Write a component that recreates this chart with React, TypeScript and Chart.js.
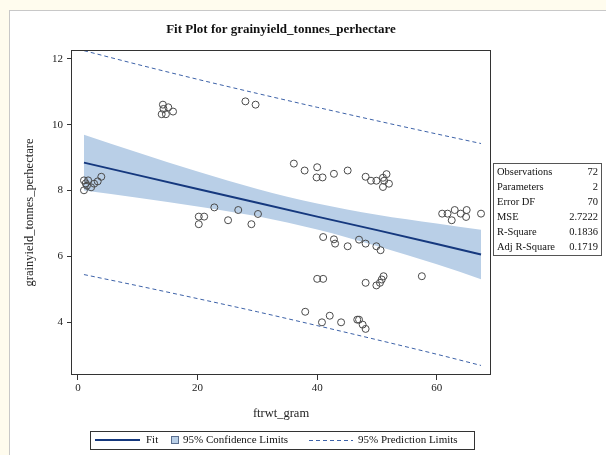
import React, { useEffect, useRef } from "react";
import { Chart, registerables } from "chart.js";

Chart.register(...registerables);

// Observations (ftrwt_gram, grainyield_tonnes_perhectare)
const obsX = [
  1.0, 1.7, 1.3, 1.0, 2.2, 2.7, 3.3, 3.9, 1.5,
  14.2, 15.1, 14.3, 15.9, 14.0, 14.7,
  28.0, 29.7,
  22.8, 20.2, 21.1, 20.2, 26.8, 25.1, 30.1, 29.0,
  36.1, 37.9, 40.0, 39.9, 40.9, 42.8, 45.1, 48.1, 49.0, 49.9, 51.0, 51.6, 51.2, 52.0, 51.0,
  60.9, 61.8, 63.0, 62.5, 64.0, 65.0, 64.9, 67.4,
  41.0, 42.8, 43.0, 45.1, 47.0, 48.1, 49.9, 50.6,
  40.0, 41.0, 48.1, 49.9, 50.5, 50.8, 51.1, 57.5,
  38.0, 40.8, 42.1, 44.0, 46.7, 47.0, 47.6, 48.1,
];
const obsY = [
  8.31, 8.31, 8.22, 8.01, 8.10, 8.21, 8.28, 8.42, 8.15,
  10.61, 10.53, 10.48, 10.40, 10.32, 10.32,
  10.71, 10.61,
  7.49, 7.21, 7.21, 6.98, 7.41, 7.10, 7.29, 6.98,
  8.82, 8.61, 8.71, 8.40, 8.40, 8.51, 8.61, 8.42, 8.30, 8.30, 8.39, 8.50, 8.30, 8.21, 8.11,
  7.30, 7.30, 7.41, 7.10, 7.30, 7.41, 7.20, 7.30,
  6.59, 6.52, 6.39, 6.31, 6.51, 6.39, 6.31, 6.19,
  5.32, 5.32, 5.20, 5.12, 5.20, 5.30, 5.40, 5.40,
  4.32, 4.00, 4.20, 4.00, 4.08, 4.08, 3.93, 3.80,
];

// Fit line and limits
const curveX = [1, 10, 20, 30, 40, 50, 60, 67.4];
const fitY = [8.85, 8.47, 8.05, 7.63, 7.21, 6.80, 6.38, 6.06];
const clUpper = [9.70, 9.16, 8.58, 8.05, 7.61, 7.27, 7.00, 6.81];
const clLower = [8.00, 7.78, 7.52, 7.22, 6.82, 6.32, 5.76, 5.31];
const plUpper = [12.25, 11.83, 11.38, 10.95, 10.53, 10.12, 9.72, 9.43];
const plLower = [5.45, 5.11, 4.72, 4.32, 3.90, 3.47, 3.03, 2.69];

const xTicks = [0, 20, 40, 60];
const yTicks = [4, 6, 8, 10, 12];

const statLabels = ["Observations", "Parameters", "Error DF", "MSE", "R-Square", "Adj R-Square"];
const statValues = ["72", "2", "70", "2.7222", "0.1836", "0.1719"];

const titleText = "Fit Plot for grainyield_tonnes_perhectare";
const xTitle = "ftrwt_gram";
const yTitle = "grainyield_tonnes_perhectare";
const legendLabels = ["Fit", "95% Confidence Limits", "95% Prediction Limits"];

const SERIF = '"Liberation Serif", "Times New Roman", serif';
const FIT_COLOR = "#15387e";
const BAND_COLOR = "#b9cfe7";
const PRED_COLOR = "#3d62a8";

const pts = (xs: number[], ys: number[]) => xs.map((x, i) => ({ x, y: ys[i] }));

const decorPlugin = {
  id: "decor",
  afterDraw(chart: any) {
    const ctx = chart.ctx as CanvasRenderingContext2D;
    const a = chart.chartArea;
    ctx.save();
    // frame
    ctx.strokeStyle = "#333";
    ctx.lineWidth = 1;
    ctx.setLineDash([]);
    ctx.strokeRect(Math.round(a.left) - 0.5, Math.round(a.top) + 0.5, Math.round(a.right - a.left) + 1, Math.round(a.bottom - a.top) - 1);

    // title
    ctx.fillStyle = "#111";
    ctx.font = `bold 13px ${SERIF}`;
    ctx.textAlign = "center";
    ctx.textBaseline = "middle";
    ctx.fillText(titleText, (a.left + a.right) / 2, 30);

    // stats box
    const bx = 493, by = 163, bw = 108, rowH = 15;
    ctx.strokeStyle = "#555";
    ctx.strokeRect(bx + 0.5, by + 0.5, bw, rowH * statLabels.length + 2);
    ctx.font = `10.5px ${SERIF}`;
    ctx.fillStyle = "#111";
    statLabels.forEach((lab, i) => {
      const yy = by + 9 + i * rowH;
      ctx.textAlign = "left";
      ctx.fillText(lab, bx + 4, yy);
      ctx.textAlign = "right";
      ctx.fillText(statValues[i], bx + bw - 3, yy);
    });

    // legend
    const ly = 440;
    ctx.strokeStyle = "#333";
    ctx.strokeRect(90.5, 431.5, 384, 18);
    ctx.font = `11px ${SERIF}`;
    ctx.textAlign = "left";
    ctx.fillStyle = "#111";
    // Fit
    ctx.strokeStyle = FIT_COLOR;
    ctx.lineWidth = 2;
    ctx.beginPath();
    ctx.moveTo(95, ly);
    ctx.lineTo(140, ly);
    ctx.stroke();
    ctx.fillText(legendLabels[0], 146, ly);
    // Confidence
    ctx.fillStyle = BAND_COLOR;
    ctx.fillRect(171, ly - 4, 8, 8);
    ctx.strokeStyle = "#5b6f90";
    ctx.lineWidth = 1;
    ctx.strokeRect(171.5, ly - 3.5, 7, 7);
    ctx.fillStyle = "#111";
    ctx.fillText(legendLabels[1], 183, ly);
    // Prediction
    ctx.strokeStyle = PRED_COLOR;
    ctx.setLineDash([4, 3]);
    ctx.beginPath();
    ctx.moveTo(309, ly + 0.5);
    ctx.lineTo(353, ly + 0.5);
    ctx.stroke();
    ctx.setLineDash([]);
    ctx.fillText(legendLabels[2], 358, ly);
    ctx.restore();
  },
};

export default function App() {
  const ref = useRef<HTMLCanvasElement | null>(null);

  useEffect(() => {
    if (!ref.current) return;
    const tickFont = { family: SERIF, size: 11 };
    const chart = new Chart(ref.current, {
      type: "scatter",
      data: {
        datasets: [
          {
            label: "CL lower",
            data: pts(curveX, clLower),
            showLine: true,
            pointRadius: 0,
            borderColor: "rgba(0,0,0,0)",
            borderWidth: 1,
            fill: false,
            cubicInterpolationMode: "monotone",
            order: 5,
          },
          {
            label: "95% Confidence Limits",
            data: pts(curveX, clUpper),
            showLine: true,
            pointRadius: 0,
            borderColor: "rgba(0,0,0,0)",
            borderWidth: 1,
            backgroundColor: BAND_COLOR,
            fill: "-1",
            cubicInterpolationMode: "monotone",
            order: 4,
          },
          {
            label: "PL upper",
            data: pts(curveX, plUpper),
            showLine: true,
            pointRadius: 0,
            borderColor: PRED_COLOR,
            borderWidth: 1,
            borderDash: [4, 3],
            fill: false,
            cubicInterpolationMode: "monotone",
            order: 3,
          },
          {
            label: "PL lower",
            data: pts(curveX, plLower),
            showLine: true,
            pointRadius: 0,
            borderColor: PRED_COLOR,
            borderWidth: 1,
            borderDash: [4, 3],
            fill: false,
            cubicInterpolationMode: "monotone",
            order: 2,
          },
          {
            label: "Fit",
            data: pts(curveX, fitY),
            showLine: true,
            pointRadius: 0,
            borderColor: FIT_COLOR,
            borderWidth: 2,
            fill: false,
            order: 1,
          },
          {
            label: "Observations",
            data: pts(obsX, obsY),
            showLine: false,
            pointRadius: 3.5,
            pointBorderWidth: 1,
            pointBorderColor: "#4a4a4a",
            pointBackgroundColor: "rgba(0,0,0,0)",
            order: 0,
          },
        ],
      },
      options: {
        animation: false,
        responsive: false,
        layout: { padding: { left: 0, top: 50, right: 116, bottom: 0 } },
        plugins: {
          legend: { display: false },
          title: { display: false },
          tooltip: { enabled: false },
        },
        scales: {
          x: {
            type: "linear",
            position: "bottom",
            min: -1.0,
            max: 68.9,
            afterBuildTicks: (s: any) => {
              s.ticks = xTicks.map((v) => ({ value: v }));
            },
            afterFit: (s: any) => {
              s.height = 80;
            },
            grid: {
              display: true,
              drawOnChartArea: false,
              drawTicks: true,
              tickLength: 5,
              color: "#333",
              tickColor: "#333",
            },
            border: { display: false },
            ticks: { padding: 2, color: "#222", font: tickFont, maxRotation: 0 },
            title: {
              display: true,
              text: xTitle,
              color: "#222",
              font: { family: SERIF, size: 12.5 },
              padding: { top: 0, bottom: 34 },
            },
          },
          y: {
            type: "linear",
            position: "left",
            min: 2.4,
            max: 12.27,
            afterBuildTicks: (s: any) => {
              s.ticks = yTicks.map((v) => ({ value: v }));
            },
            afterFit: (s: any) => {
              s.width = 72;
            },
            grid: {
              display: true,
              drawOnChartArea: false,
              drawTicks: true,
              tickLength: 5,
              color: "#333",
              tickColor: "#333",
            },
            border: { display: false },
            ticks: { padding: 4, color: "#222", font: tickFont },
            title: {
              display: true,
              text: yTitle,
              color: "#222",
              font: { family: SERIF, size: 12.5 },
              padding: { top: 22, bottom: 0 },
            },
          },
        },
      },
      plugins: [decorPlugin],
    } as any);
    return () => chart.destroy();
  }, []);

  return (
    <div style={{ position: "absolute", left: 0, top: 0, width: 606, height: 455, background: "#fffcee", overflow: "hidden" }}>
      <div
        style={{
          position: "absolute",
          left: 9,
          top: 10,
          width: 597,
          height: 445,
          background: "#ffffff",
          borderLeft: "1px solid #c8c8c8",
          borderTop: "1px solid #c8c8c8",
        }}
      />
      <canvas ref={ref} width={606} height={455} style={{ position: "absolute", left: 0, top: 0, width: 606, height: 455 }} />
    </div>
  );
}
